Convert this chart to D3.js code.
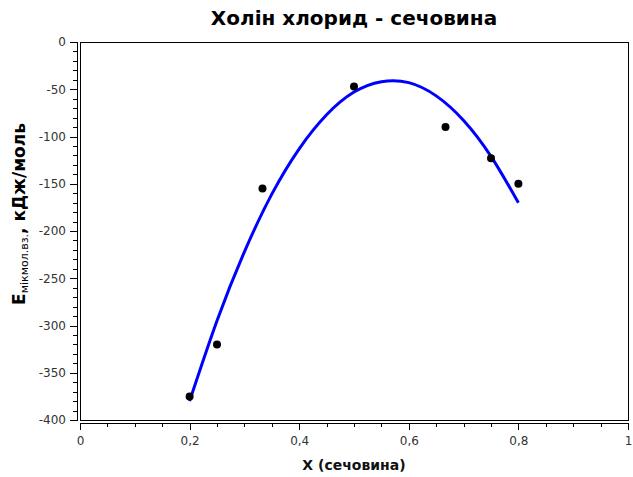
<!DOCTYPE html>
<html><head><meta charset="utf-8">
<script src="https://cdn.jsdelivr.net/npm/d3@7/dist/d3.min.js"></script>
<style>body{margin:0;background:#fff}svg{display:block}</style>
</head><body>
<svg id="c" width="633" height="477"></svg>
<script>
const pointX = [0.2, 0.25, 0.333, 0.5, 0.667, 0.75, 0.8];
const pointY = [-375, -320, -155, -47, -90, -123, -150];
const curveX = [0.2, 0.25, 0.3, 0.35, 0.4, 0.45, 0.5, 0.55, 0.6, 0.65, 0.7, 0.75, 0.8];
const curveY = [-380, -295, -222, -161, -113, -77, -53, -42, -43, -57, -83, -121, -170];
const xMajor = [0, 0.2, 0.4, 0.6, 0.8, 1];
const yMajor = [0, -50, -100, -150, -200, -250, -300, -350, -400];

const svg = d3.select("#c");
const L = 80, R = 628, T = 42, B = 420;
const x = d3.scaleLinear().domain([0, 1]).range([L, R]);
const y = d3.scaleLinear().domain([-400, 0]).range([B, T]);
const font = "Verdana, 'DejaVu Sans', sans-serif";
const fmt = d => d3.format("")(d).replace(".", ",");

svg.append("rect").attr("x", L).attr("y", T).attr("width", R - L).attr("height", B - T)
  .attr("fill", "none").attr("stroke", "#000").attr("stroke-width", 1).attr("shape-rendering", "crispEdges");

const xMinor = d3.range(0, 21).map(i => i * 0.05);
const yMinor = d3.range(0, 41).map(i => -i * 10);
svg.append("g").attr("transform", `translate(0,${B + 3})`)
  .call(d3.axisBottom(x).tickValues(xMinor).tickSize(4).tickFormat(""));
svg.append("g").attr("transform", `translate(0,${B + 3})`)
  .call(d3.axisBottom(x).tickValues(xMajor).tickSize(7).tickPadding(6).tickFormat(fmt));
svg.append("g").attr("transform", `translate(${L - 3},0)`)
  .call(d3.axisLeft(y).tickValues(yMinor).tickSize(4).tickFormat(""));
svg.append("g").attr("transform", `translate(${L - 3},0)`)
  .call(d3.axisLeft(y).tickValues(yMajor).tickSize(7).tickPadding(4).tickFormat(d => d));
svg.selectAll(".domain").attr("stroke", "#000").attr("shape-rendering", "crispEdges");
svg.selectAll(".tick line").attr("stroke", "#000").attr("shape-rendering", "crispEdges");
svg.selectAll(".tick text").attr("font-family", font).attr("font-size", 12).attr("fill", "#333");

const curve = curveX.map((d, i) => [d, curveY[i]]);
svg.append("path").datum(curve)
  .attr("d", d3.line().x(d => x(d[0])).y(d => y(d[1])).curve(d3.curveNatural))
  .attr("fill", "none").attr("stroke", "#0000ff").attr("stroke-width", 3);

svg.selectAll("circle.p").data(pointX.map((d, i) => [d, pointY[i]])).enter()
  .append("circle").attr("class", "p")
  .attr("cx", d => x(d[0])).attr("cy", d => y(d[1])).attr("r", 4).attr("fill", "#000");

svg.append("text").attr("x", (L + R) / 2).attr("y", 25).attr("text-anchor", "middle")
  .attr("font-family", font).attr("font-size", 20).attr("font-weight", "bold")
  .text("Холін хлорид - сечовина");

svg.append("text").attr("x", (L + R) / 2).attr("y", 470).attr("text-anchor", "middle")
  .attr("font-family", font).attr("font-size", 14).attr("font-weight", "bold").attr("fill", "#111")
  .text("X (сечовина)");

const yl = svg.append("text").attr("transform", `translate(25,214) rotate(-90)`)
  .attr("text-anchor", "middle").attr("font-family", font).attr("font-size", 17).attr("font-weight", "bold");
yl.append("tspan").text("E");
yl.append("tspan").attr("font-size", 11).attr("font-weight", "normal").attr("dy", 3).text("мікмол.вз.");
yl.append("tspan").attr("dy", -3).text(", кДж/моль");
</script>
</body></html>
